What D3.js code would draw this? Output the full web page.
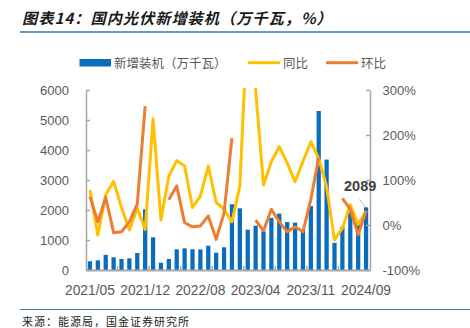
<!DOCTYPE html>
<html><head><meta charset="utf-8">
<script src="https://cdn.jsdelivr.net/npm/d3@7"></script>
<style>
html,body{margin:0;padding:0;background:#fff;}
svg{display:block;}
</style></head>
<body>
<svg id="c" width="470" height="328"></svg>
<script>
// ---- data ----
const categories = ["2021/05","2021/06","2021/07","2021/08","2021/09","2021/10","2021/11","2021/12",
  "2022/02","2022/03","2022/04","2022/05","2022/06","2022/07","2022/08","2022/09","2022/10","2022/11","2022/12",
  "2023/02","2023/03","2023/04","2023/05","2023/06","2023/07","2023/08","2023/09","2023/10","2023/11","2023/12",
  "2024/02","2024/03","2024/04","2024/05","2024/08","2024/09"];
const installs = [290,323,505,423,367,390,567,2023,1090,243,367,690,723,690,687,810,577,757,2190,
  2056,1344,1477,1289,1740,1880,1600,1578,1360,2133,5300,3680,905,1430,1920,1620,2089];
const yoy = [78,-22,67,97,39,-11,37,-10,236,11,109,143,131,39,64,131,50,35,7,
  87,466,300,89,141,174,138,96,141,185,148,85,-33,-7,45,1,31];
const mom = [63,7,61,-17,-15,7,47,264,null,null,56,87,5,-4,-2,20,-32,27,193,
  null,null,11,-13,35,7,-15,-4,-15,57,150,null,null,59,35,-22,31];
const leftTicks = [0,1000,2000,3000,4000,5000,6000];
const rightTicks = [-100,0,100,200,300];
const xTickLabels = ["2021/05","2021/12","2022/08","2023/04","2023/11","2024/09"];
const seriesNames = ["新增装机（万千瓦）","同比","环比"];
const titleText = "图表14：国内光伏新增装机（万千瓦，%）";
const sourceText = "来源：能源局，国金证券研究所";

// ---- layout ----
const svg = d3.select("#c");
const L = 86, R = 370, T = 90, B = 270;
const BLUE = "#0a6cbc", YEL = "#FFC000", ORA = "#ED7D31", AX = "#a6a6a6", TXT = "#595959";
const numFont = "'Liberation Sans', Arial, sans-serif";
const cjkFont = "'Noto Sans CJK SC', 'Noto Sans', sans-serif";

svg.append("rect").attr("width",470).attr("height",328).attr("fill","#fff");

// title
svg.append("text").attr("x",22).attr("y",24)
  .attr("font-family",cjkFont).attr("font-size",15.2).attr("font-weight","bold")
  .attr("font-style","italic").attr("letter-spacing",1).attr("fill","#1a1a1a")
  .text(titleText);
svg.append("line").attr("x1",20).attr("x2",470).attr("y1",32).attr("y2",32)
  .attr("stroke","#3d77ad").attr("stroke-width",1.5);

// source
svg.append("line").attr("x1",20).attr("x2",470).attr("y1",309.5).attr("y2",309.5)
  .attr("stroke","#3d77ad").attr("stroke-width",1.2);
svg.append("text").attr("x",22).attr("y",325.5)
  .attr("font-family",cjkFont).attr("font-size",11).attr("letter-spacing",1).attr("fill","#222")
  .text(sourceText);

// scales
const x = d3.scaleBand().domain(categories).range([L,R]).paddingInner(0.46).paddingOuter(0.23);
const xc = c => x(c) + x.bandwidth()/2;
const yL = d3.scaleLinear().domain([0,6000]).range([B,T]);
const yR = d3.scaleLinear().domain([-100,300]).range([B,T]);

// bars
svg.append("g").selectAll("rect").data(installs).join("rect")
  .attr("x",(d,i)=>x(categories[i])).attr("width",x.bandwidth())
  .attr("y",d=>yL(d)).attr("height",d=>B-yL(d)).attr("fill",BLUE);

// axes
const gl = svg.append("g").attr("transform",`translate(${L},0)`)
  .call(d3.axisLeft(yL).tickValues(leftTicks).tickFormat(d3.format("d")).tickSizeInner(-4).tickSizeOuter(0).tickPadding(17));
const gr = svg.append("g").attr("transform",`translate(${R},0)`)
  .call(d3.axisRight(yR).tickValues(rightTicks).tickFormat(d=>d+"%").tickSizeInner(-4).tickSizeOuter(0).tickPadding(12.5));
[gl,gr].forEach(g=>{
  g.select(".domain").attr("stroke",AX).attr("stroke-width",1.5);
  g.selectAll(".tick line").attr("stroke",AX).attr("stroke-width",1.5);
  g.selectAll("text").attr("font-family",numFont).attr("font-size",13).attr("fill",TXT);
});
const gb = svg.append("g").attr("transform",`translate(0,${B})`)
  .call(d3.axisBottom(x).tickValues(xTickLabels).tickSize(0).tickPadding(15));
gb.select(".domain").attr("stroke",AX).attr("stroke-width",2);
gb.selectAll("text").attr("font-family",numFont).attr("font-size",13.8).attr("fill",TXT);
// minor boundary ticks every 4 categories
const step = x.step();
svg.append("g").selectAll("line").data(d3.range(4,36,4)).join("line")
  .attr("x1",i=>x(categories[i]) - x.paddingOuter()*step)
  .attr("x2",i=>x(categories[i]) - x.paddingOuter()*step)
  .attr("y1",B-4).attr("y2",B).attr("stroke",AX).attr("stroke-width",1.5);

// clip
svg.append("clipPath").attr("id","pc").append("rect").attr("x",L-6).attr("y",T-2).attr("width",R-L+12).attr("height",B-T+8);

const line = d3.line().defined(d=>d.v!==null).x(d=>xc(d.c)).y(d=>yR(d.v));
svg.append("path").attr("clip-path","url(#pc)")
  .datum(yoy.map((v,i)=>({c:categories[i],v})))
  .attr("d",line).attr("fill","none").attr("stroke",YEL).attr("stroke-width",3).attr("stroke-linejoin","round");
svg.append("path").attr("clip-path","url(#pc)")
  .datum(mom.map((v,i)=>({c:categories[i],v})))
  .attr("d",line).attr("fill","none").attr("stroke",ORA).attr("stroke-width",3).attr("stroke-linejoin","round");

// data label for last bar
const li = installs.length-1;
const lx = xc(categories[li]), ly = yL(installs[li]);
svg.append("line").attr("x1",lx-6.5).attr("y1",ly-8).attr("x2",lx-1).attr("y2",ly-0.5)
  .attr("stroke","#a6a6a6").attr("stroke-width",0.8);
svg.append("text").attr("x",lx-22).attr("y",ly-16.5).attr("text-anchor","start")
  .attr("font-family",numFont).attr("font-size",14.5).attr("font-weight","bold").attr("fill","#404040")
  .text(installs[li]);

// legend
const lg = svg.append("g");
lg.append("rect").attr("x",79.5).attr("y",59).attr("width",31.5).attr("height",7.5).attr("fill",BLUE);
lg.append("text").attr("x",114).attr("y",67.5).attr("font-family",cjkFont).attr("font-size",12.5).attr("fill",TXT).text(seriesNames[0]);
lg.append("line").attr("x1",248).attr("x2",280).attr("y1",62.7).attr("y2",62.7).attr("stroke",YEL).attr("stroke-width",3);
lg.append("text").attr("x",283).attr("y",67.5).attr("font-family",cjkFont).attr("font-size",12.5).attr("fill",TXT).text(seriesNames[1]);
lg.append("line").attr("x1",326).attr("x2",358).attr("y1",62.7).attr("y2",62.7).attr("stroke",ORA).attr("stroke-width",3);
lg.append("text").attr("x",361).attr("y",67.5).attr("font-family",cjkFont).attr("font-size",12.5).attr("fill",TXT).text(seriesNames[2]);
</script>
</body></html>
